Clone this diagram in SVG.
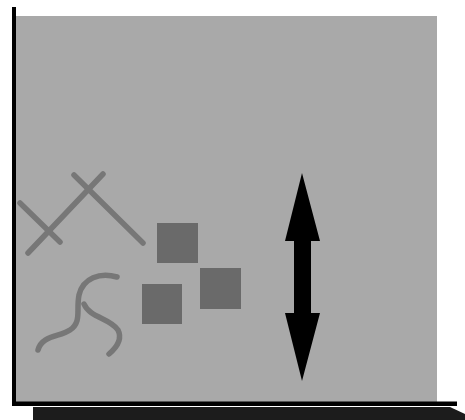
<svg xmlns="http://www.w3.org/2000/svg" width="465" height="420" viewBox="0 0 465 420">
<style>
.stroke{fill:none;stroke:#777;stroke-width:5.5;stroke-linecap:round;stroke-linejoin:round}
.sq{fill:#6a6a6a}
</style>
<rect width="465" height="420" fill="#fff"/>
<g id="panel">
<rect x="15" y="16" width="422" height="386" fill="#a9a9a9"/>
<rect x="12" y="7" width="4" height="399" fill="#000"/>
<rect x="12" y="401.5" width="445" height="4.5" fill="#000"/>
<polygon points="33,407 450,407 465,414 465,420 33,420" fill="#1c1c1c"/>
</g>
<g id="crosses">
<line class="stroke" x1="20" y1="203" x2="60" y2="242"/>
<line class="stroke" x1="28" y1="253" x2="103" y2="174"/>
<line class="stroke" x1="74" y1="175" x2="143" y2="243"/>
</g>
<g id="squiggle">
<path class="stroke" d="M117,277 C100,272 83,278 79,295 C76,310 82,322 70,330 C60,337 42,335 38,350"/>
<path class="stroke" d="M84,304 C90,318 110,318 118,330 C123,340 116,348 109,354"/>
</g>
<g id="squares">
<rect class="sq" x="157" y="223" width="41" height="40"/>
<rect class="sq" x="200" y="268" width="41" height="41"/>
<rect class="sq" x="142" y="284" width="40" height="40"/>
</g>
<g id="arrow">
<polygon points="302,173 320,241 311,241 311,313 320,313 302,381 285,313 294,313 294,241 285,241" fill="#000"/>
</g>
</svg>
